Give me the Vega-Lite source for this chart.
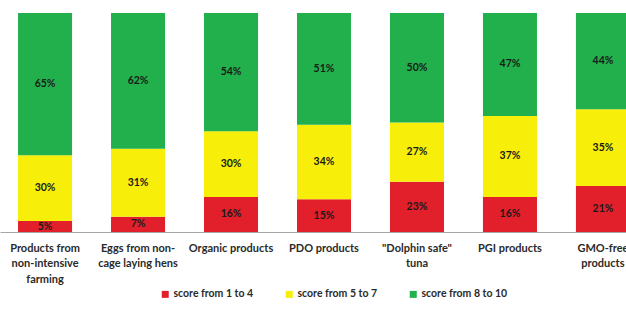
{
  "$schema": "https://vega.github.io/schema/vega-lite/v6.json",
  "width": 626,
  "height": 219,
  "autosize": {"type": "none"},
  "padding": {"left": 0, "top": 13, "right": 0, "bottom": 77},
  "background": "white",
  "config": {"view": {"stroke": null}, "font": "Lato"},
  "data": {
    "values": [
      {"product": "Products from non-intensive farming", "score": "score from 1 to 4", "rank": 1, "pct": 5},
      {"product": "Products from non-intensive farming", "score": "score from 5 to 7", "rank": 2, "pct": 30},
      {"product": "Products from non-intensive farming", "score": "score from 8 to 10", "rank": 3, "pct": 65},
      {"product": "Eggs from non-cage laying hens", "score": "score from 1 to 4", "rank": 1, "pct": 7},
      {"product": "Eggs from non-cage laying hens", "score": "score from 5 to 7", "rank": 2, "pct": 31},
      {"product": "Eggs from non-cage laying hens", "score": "score from 8 to 10", "rank": 3, "pct": 62},
      {"product": "Organic products", "score": "score from 1 to 4", "rank": 1, "pct": 16},
      {"product": "Organic products", "score": "score from 5 to 7", "rank": 2, "pct": 30},
      {"product": "Organic products", "score": "score from 8 to 10", "rank": 3, "pct": 54},
      {"product": "PDO products", "score": "score from 1 to 4", "rank": 1, "pct": 15},
      {"product": "PDO products", "score": "score from 5 to 7", "rank": 2, "pct": 34},
      {"product": "PDO products", "score": "score from 8 to 10", "rank": 3, "pct": 51},
      {"product": "\"Dolphin safe\" tuna", "score": "score from 1 to 4", "rank": 1, "pct": 23},
      {"product": "\"Dolphin safe\" tuna", "score": "score from 5 to 7", "rank": 2, "pct": 27},
      {"product": "\"Dolphin safe\" tuna", "score": "score from 8 to 10", "rank": 3, "pct": 50},
      {"product": "PGI products", "score": "score from 1 to 4", "rank": 1, "pct": 16},
      {"product": "PGI products", "score": "score from 5 to 7", "rank": 2, "pct": 37},
      {"product": "PGI products", "score": "score from 8 to 10", "rank": 3, "pct": 47},
      {"product": "GMO-free products", "score": "score from 1 to 4", "rank": 1, "pct": 21},
      {"product": "GMO-free products", "score": "score from 5 to 7", "rank": 2, "pct": 35},
      {"product": "GMO-free products", "score": "score from 8 to 10", "rank": 3, "pct": 44}
    ]
  },
  "transform": [
    {"stack": "pct", "groupby": ["product"], "sort": [{"field": "rank", "order": "ascending"}], "as": ["y0", "y1"]},
    {"calculate": "(datum.y0 + datum.y1) / 2", "as": "ymid"},
    {"calculate": "datum.pct + '%'", "as": "label"}
  ],
  "encoding": {
    "x": {
      "field": "product",
      "type": "nominal",
      "sort": null,
      "scale": {"range": [0, 648], "paddingInner": 0.419, "paddingOuter": 0.194},
      "axis": {
        "title": null,
        "labelAngle": 0,
        "ticks": false,
        "domainColor": "#a6a6a6",
        "domainWidth": 1,
        "labelFont": "Lato",
        "labelFontSize": 11,
        "labelFontWeight": "bold",
        "labelColor": "#2a2a2a",
        "labelPadding": 10,
        "labelBaseline": "top",
        "labelLineHeight": 15.5,
        "labelOverlap": false,
        "labelBound": false,
        "labelLimit": 0,
        "labelExpr": "datum.value == 'Products from non-intensive farming' ? ['Products from', 'non-intensive', 'farming'] : datum.value == 'Eggs from non-cage laying hens' ? ['Eggs from non-', 'cage laying hens'] : datum.value == '\"Dolphin safe\" tuna' ? ['\"Dolphin safe\"', 'tuna'] : datum.value == 'GMO-free products' ? ['GMO-free', 'products'] : datum.value"
      }
    }
  },
  "layer": [
    {
      "mark": {"type": "bar", "clip": true},
      "encoding": {
        "y": {"field": "y0", "type": "quantitative", "scale": {"domain": [0, 100]}, "axis": null},
        "y2": {"field": "y1"},
        "color": {
          "field": "score",
          "type": "nominal",
          "scale": {
            "domain": ["score from 1 to 4", "score from 5 to 7", "score from 8 to 10"],
            "range": ["#e2202b", "#f7ee0a", "#21b04b"]
          },
          "legend": {
            "title": null,
            "orient": "none",
            "legendX": 160,
            "legendY": 276,
            "direction": "horizontal",
            "columns": 3,
            "columnPadding": 30,
            "padding": 0,
            "symbolType": "square",
            "symbolSize": 49,
            "symbolStrokeWidth": 0,
            "labelOffset": 3,
            "labelFont": "Lato",
            "labelFontSize": 10.5,
            "labelFontWeight": "bold",
            "labelColor": "#2a2a2a"
          }
        }
      }
    },
    {
      "mark": {"type": "text", "font": "Lato", "fontSize": 10.5, "fontWeight": "bold", "color": "#1a1a1a", "baseline": "middle", "clip": true},
      "encoding": {
        "y": {"field": "ymid", "type": "quantitative", "scale": {"domain": [0, 100]}},
        "text": {"field": "label"}
      }
    }
  ]
}
